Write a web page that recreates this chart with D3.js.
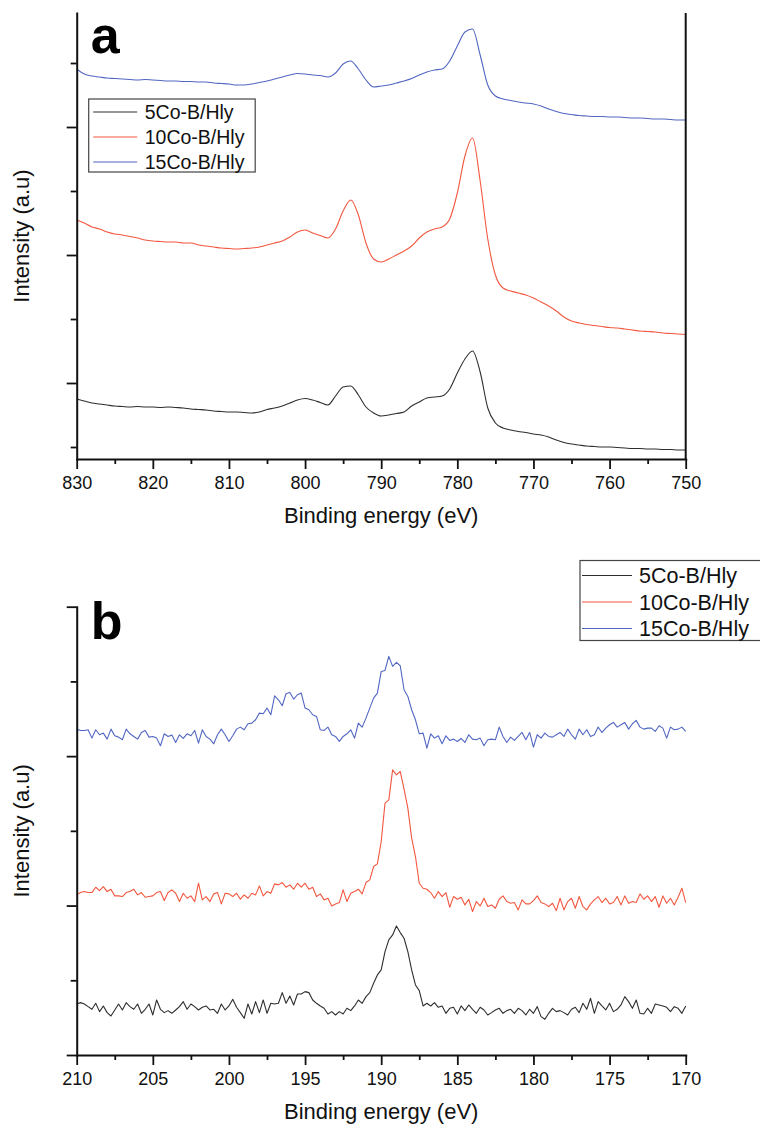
<!DOCTYPE html>
<html>
<head>
<meta charset="utf-8">
<script src="https://cdn.jsdelivr.net/npm/d3@7"></script>
<style>
  body { margin: 0; background: #fff; }
  svg text { font-family: "Liberation Sans", Arial, sans-serif; }
</style>
</head>
<body>
<div id="chart"></div>
<script>
// series
const seriesNames = ['5Co-B/Hly', '10Co-B/Hly', '15Co-B/Hly'];
const seriesColors = ['#2e2e2e', '#f2573f', '#5166c2'];

// panel a: 830 -> 750 eV, 1 eV steps
const energyA = d3.range(830, 749.5, -1);
const co5A = [112,110,108,107,106,105,104.5,104,104.5,104,
  104,103.5,104,103.5,103,102,101.5,101,100,99.5,
  99,99,98.5,98,99,101.5,103,105,108,111,
  112.5,111,108.5,106,115,124,125,116,104,98,
  95,96,97.5,99,105,109,113,114,115,122,
  138,152,160,139,103,88,83,81,79.5,78.5,
  77,76,74,71,68.5,67,66,65,64.5,64,
  64,63.5,63,62.5,62.5,62,62,61.5,61.5,61,
  61];
const co10A = [291,288,284,282,279,277,276,274.5,273,271,
  270,269.5,269,269,268,268,266,265,264,263,
  262.5,262,262.5,263,264,266,268,270,274,279,
  281,278,275.5,273,282,300,311,296,268,252,
  249,252,256,260,265,273,279,282,284,292,
  318,355,373,330,272,236,223,220,218,216,
  213,209,205,200,194,190,188,186.5,185.5,184.5,
  183.5,183,182,181,180,179.5,179,178,177.5,177,
  176.5];
const co15A = [442,437,435,434,433,432.5,432,431.5,431,431.5,
  431,430.5,430,430,429.5,429.5,429,429,428,427.5,
  427,426,426,427,428.5,430,432,434,436,437.5,
  437,436,435.5,434,438,447,450,442,431,424,
  425,426,428,430,432.5,436,439,441,442,450,
  465,479,482,456,426,415,412,410.5,409,408,
  407,405,402,399.5,397.5,396.5,395.5,395,394.5,394.5,
  394,394,393.5,393,393,392.5,392,392,391.5,391,
  391];

// panel b: 210 -> 170 eV, 0.25 eV steps
const energyB = d3.range(0, 161).map(i => 210 - i * 0.25);
const co5B = [153,157,153,145,137,155,130,147,127,117,
  135,153,135,157,145,137,153,125,137,153,
  120,165,137,127,133,125,135,145,160,137,
  153,145,135,143,147,135,137,125,153,135,
  147,167,143,127,110,153,123,160,127,165,
  125,155,153,155,187,155,177,150,183,183,
  190,187,165,155,147,140,123,130,120,130,
  123,140,133,147,165,155,175,187,215,240,
  255,310,345,360,387,367,350,310,255,210,
  193,147,155,147,157,143,147,125,140,143,
  123,147,133,150,137,125,143,135,120,127,
  135,140,125,133,137,125,140,133,120,137,
  125,145,115,107,125,140,130,133,127,120,
  137,143,127,155,137,170,125,160,147,135,
  155,130,137,150,175,160,140,165,125,123,
  140,125,153,150,147,143,130,145,140,125,
  147];
const co10B = [480,487,490,487,487,503,493,505,490,497,
  477,477,475,487,490,497,480,487,473,475,
  477,487,490,463,487,495,485,460,485,470,
  477,460,515,465,475,460,483,487,453,485,
  483,475,485,467,480,470,485,480,507,477,
  490,485,513,510,517,503,510,497,515,503,
  515,497,503,475,483,465,470,447,453,457,
  495,460,485,490,497,483,517,525,565,573,
  640,755,765,855,840,850,797,740,650,595,
  515,500,497,487,470,490,475,487,443,475,
  467,473,450,467,430,460,447,470,445,450,
  440,467,477,460,455,457,435,465,453,453,
  463,477,457,453,445,455,433,470,435,460,
  470,440,475,445,435,453,465,475,457,470,
  453,457,475,450,477,455,460,457,483,467,
  477,460,475,443,477,455,470,450,473,500,
  457];
const co15B = [977,973,973,975,950,975,960,965,947,977,
  957,953,945,977,963,955,947,967,973,953,
  955,950,927,963,955,959,937,960,949,963,
  957,973,935,975,955,947,933,960,977,960,
  940,957,977,983,975,993,995,1005,1025,1023,
  1040,1020,1077,1065,1047,1083,1087,1067,1080,1085,
  1040,1035,1020,1015,975,973,983,960,955,940,
  955,963,975,950,995,983,1010,1040,1070,1085,
  1150,1153,1195,1165,1177,1167,1095,1075,1035,1005,
  963,965,920,963,950,957,933,957,943,947,
  940,949,937,960,947,945,950,927,945,947,
  945,983,955,937,953,943,955,967,945,967,
  923,960,950,965,955,953,960,967,955,977,
  960,947,977,960,975,955,960,983,967,980,
  990,997,983,990,997,977,993,1003,983,977,
  980,980,970,987,980,950,983,975,977,983,
  970];

// ticks
const xMajorA = [830, 820, 810, 800, 790, 780, 770, 760, 750];
const xMinorA = [825, 815, 805, 795, 785, 775, 765, 755];
const yMajorA = [128, 256, 384];
const yMinorA = [64, 192, 320, 448];
const xMajorB = [210, 205, 200, 195, 190, 185, 180, 175, 170];
const xMinorB = [207.5, 202.5, 197.5, 192.5, 187.5, 182.5, 177.5, 172.5];
const yMajorB = [0, 448, 896, 1344];
const yMinorB = [224, 672, 1120];

const svg = d3.select('#chart').append('svg')
    .attr('width', 760)
    .attr('height', 1126);

const axisColor = '#111';

function styleAxis(g) {
    g.selectAll('path.domain')
        .attr('stroke', axisColor)
        .attr('stroke-width', 2)
        .attr('stroke-linecap', 'square');
    g.selectAll('.tick line')
        .attr('stroke', axisColor)
        .attr('stroke-width', 1.8);
    g.selectAll('.tick text')
        .attr('fill', axisColor)
        .attr('font-size', 18)
        .attr('font-family', '"Liberation Sans", Arial, sans-serif');
}

function drawPanel(p) {
    const x = d3.scaleLinear().domain(p.xDomain).range([p.left, p.right]);
    const y = d3.scaleLinear().domain(p.yDomain).range([p.bottom, p.top]);
    const g = svg.append('g');

    // spectra
    p.series.forEach((s, k) => {
        const line = d3.line()
            .x((d, i) => x(p.energy[i]))
            .y(d => y(d))
            .curve(p.curve);
        g.append('path')
            .datum(s)
            .attr('fill', 'none')
            .attr('stroke', seriesColors[k])
            .attr('stroke-width', 1.1)
            .attr('stroke-linejoin', 'round')
            .attr('d', line);
    });

    // x axis
    g.append('g')
        .attr('transform', `translate(0,${p.bottom})`)
        .call(d3.axisBottom(x).tickValues(p.xMinor).tickSize(5).tickFormat(''))
        .call(a => a.select('.domain').remove())
        .call(styleAxis);
    g.append('g')
        .attr('transform', `translate(0,${p.bottom})`)
        .call(d3.axisBottom(x).tickValues(p.xMajor).tickSize(10).tickSizeOuter(0)
            .tickPadding(7.5).tickFormat(d3.format('d')))
        .call(styleAxis);

    // y axis, no labels
    g.append('g')
        .attr('transform', `translate(${p.left},0)`)
        .call(d3.axisLeft(y).tickValues(p.yMinor).tickSize(6).tickFormat(''))
        .call(a => a.select('.domain').remove())
        .call(styleAxis);
    g.append('g')
        .attr('transform', `translate(${p.left},0)`)
        .call(d3.axisLeft(y).tickValues(p.yMajor).tickSize(10).tickSizeOuter(0).tickFormat(''))
        .call(styleAxis);

    if (p.rightAxis) {
        g.append('line')
            .attr('x1', p.right).attr('x2', p.right)
            .attr('y1', p.top).attr('y2', p.bottom)
            .attr('stroke', axisColor)
            .attr('stroke-width', 2);
    }

    // titles
    g.append('text')
        .attr('x', (p.left + p.right) / 2)
        .attr('y', p.bottom + 64)
        .attr('text-anchor', 'middle')
        .attr('font-size', 22)
        .attr('fill', '#111')
        .text('Binding energy (eV)');
    g.append('text')
        .attr('transform', `translate(29,${(p.top + p.bottom) / 2}) rotate(-90)`)
        .attr('text-anchor', 'middle')
        .attr('font-size', 22)
        .attr('fill', '#111')
        .text('Intensity (a.u)');

    // panel letter
    g.append('text')
        .attr('x', p.left + 14)
        .attr('y', p.letterY)
        .attr('font-size', 52)
        .attr('font-weight', 'bold')
        .attr('fill', '#000')
        .text(p.letter);

    // legend
    const lg = g.append('g').attr('transform', `translate(${p.legend.x},${p.legend.y})`);
    lg.append('rect')
        .attr('width', p.legend.w)
        .attr('height', p.legend.h)
        .attr('fill', '#fff')
        .attr('stroke', '#444')
        .attr('stroke-width', 1.2);
    seriesNames.forEach((name, k) => {
        const cy = p.legend.row0 + k * p.legend.step;
        lg.append('line')
            .attr('x1', p.legend.lineX0).attr('x2', p.legend.lineX1)
            .attr('y1', cy).attr('y2', cy)
            .attr('stroke', seriesColors[k])
            .attr('stroke-width', 1.2);
        lg.append('text')
            .attr('x', p.legend.textX)
            .attr('y', cy)
            .attr('dy', '0.36em')
            .attr('font-size', p.legend.font)
            .attr('fill', '#111')
            .text(name);
    });
}

drawPanel({
    letter: 'a', letterY: 53,
    energy: energyA, series: [co5A, co10A, co15A], curve: d3.curveMonotoneX,
    xDomain: [830, 750], yDomain: [52, 498],
    left: 76.7, right: 685.7, top: 13, bottom: 459,
    xMajor: xMajorA, xMinor: xMinorA, yMajor: yMajorA, yMinor: yMinorA,
    rightAxis: true,
    legend: { x: 88.7, y: 99, w: 166.5, h: 73, row0: 13, step: 25,
        lineX0: 4.5, lineX1: 48.5, textX: 56, font: 19.5 }
});

drawPanel({
    letter: 'b', letterY: 639,
    energy: energyB, series: [co5B, co10B, co15B], curve: d3.curveLinear,
    xDomain: [210, 170], yDomain: [0, 1344],
    left: 76.7, right: 685.7, top: 606.7, bottom: 1055,
    xMajor: xMajorB, xMinor: xMinorB, yMajor: yMajorB, yMinor: yMinorB,
    rightAxis: false,
    legend: { x: 580, y: 560.5, w: 185, h: 80, row0: 15, step: 26.5,
        lineX0: 2, lineX1: 52, textX: 59, font: 21.5 }
});
</script>
</body>
</html>
